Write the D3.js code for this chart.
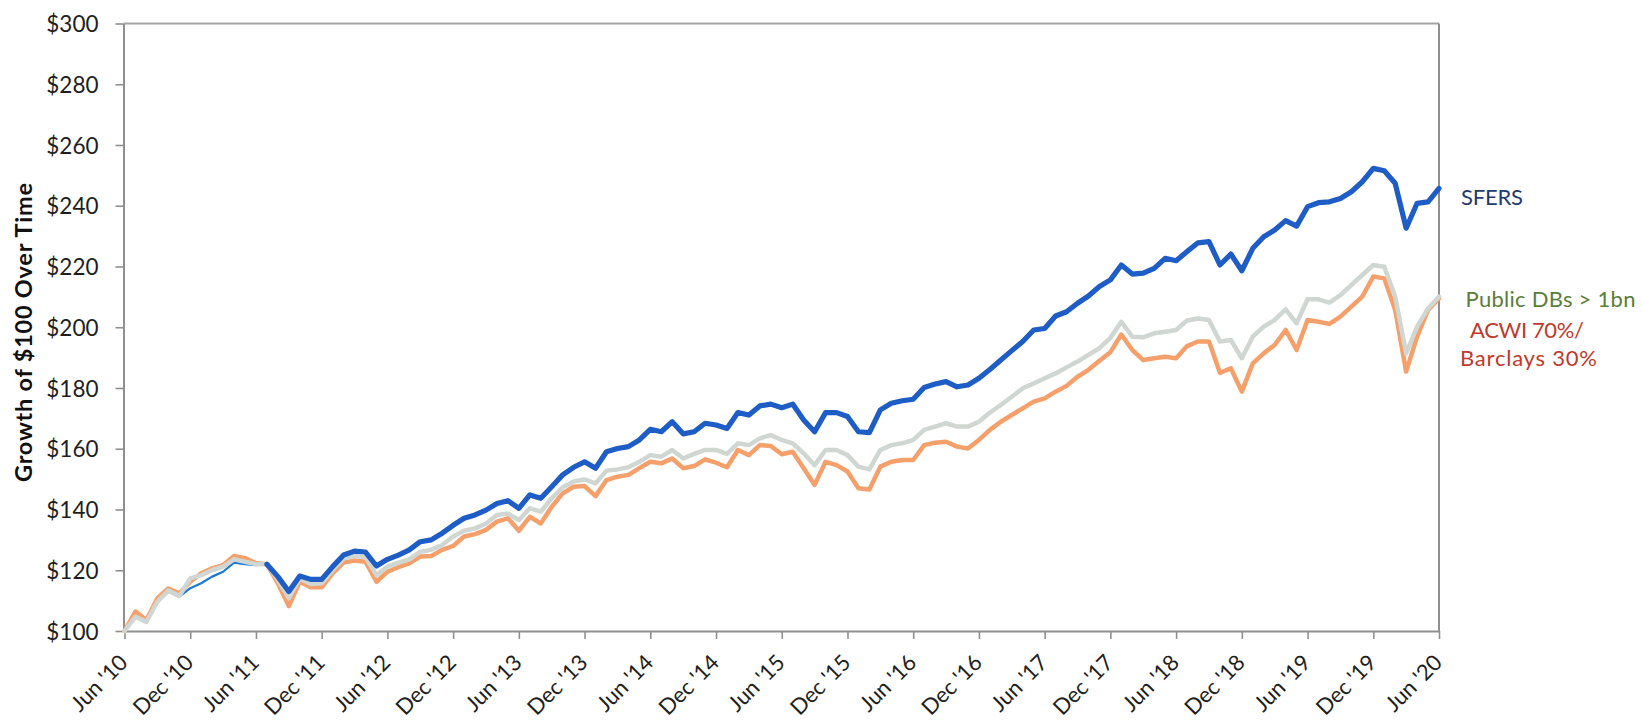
<!DOCTYPE html>
<html>
<head>
<meta charset="utf-8">
<script src="https://cdn.jsdelivr.net/npm/d3@7"></script>
<style>
  html, body { margin: 0; padding: 0; background: #ffffff; }
  svg { display: block; }
  text { font-family: Lato, "Open Sans", sans-serif; }
</style>
</head>
<body>
<svg id="chart" width="1642" height="721"></svg>
<script>
// Monthly growth of $100, Jun 2010 – Jun 2020 (121 month-ends)
const monthFmt = d3.timeFormat("%b '%y");
const categories = d3.timeMonth
  .range(new Date(2010, 5, 1), new Date(2020, 6, 1))
  .map(monthFmt);

const tickLabels = [
  "Jun '10", "Dec '10", "Jun '11", "Dec '11", "Jun '12", "Dec '12", "Jun '13",
  "Dec '13", "Jun '14", "Dec '14", "Jun '15", "Dec '15", "Jun '16", "Dec '16",
  "Jun '17", "Dec '17", "Jun '18", "Dec '18", "Jun '19", "Dec '19", "Jun '20"
];

const yTicks = [100, 120, 140, 160, 180, 200, 220, 240, 260, 280, 300];

const sfers = [
  100, 104.5, 103, 109.5, 113, 111.3, 114.1, 115.7, 117.9, 119.5,
  122.5, 122, 121.7, 122, 117.9, 113, 118.1, 117, 117, 121.2,
  125, 126.3, 126, 121.4, 123.6, 125, 126.7, 129.4, 130, 132.2,
  134.8, 137.1, 138.2, 139.8, 142, 142.9, 140.4, 144.8, 143.7, 147.5,
  151.4, 153.9, 155.7, 153.6, 159, 160.1, 160.7, 162.9, 166.4, 165.6,
  168.9, 164.9, 165.6, 168.4, 167.8, 166.7, 171.9, 171.1, 174.1, 174.7,
  173.5, 174.7, 169.5, 165.6, 171.9, 171.9, 170.6, 165.6, 165.3, 172.8,
  175, 175.8, 176.3, 180.2, 181.3, 182.1, 180.4, 181, 183.2, 186.1,
  189.2, 192.3, 195.3, 199.1, 199.6, 203.7, 205.1, 207.9, 210.3, 213.4,
  215.6, 220.5, 217.5, 217.8, 219.4, 222.7, 221.9, 224.9, 227.8, 228.2,
  220.5, 224.1, 218.6, 226, 229.8, 232, 235.1, 233.3, 239.7, 241,
  241.3, 242.4, 244.6, 247.9, 252.3, 251.5, 247.4, 232.6, 240.8, 241.3,
  245.7
];

const publicDBs = [
  100, 104.7, 103, 109.7, 113.3, 111.5, 117.3, 118.4, 120, 121.2,
  123.6, 122.8, 122, 122, 116.8, 110.8, 117.3, 115.5, 115.7, 120,
  123.9, 124.7, 124.3, 118.4, 121.2, 122.5, 123.6, 126.1, 126.7, 128.3,
  131.1, 133, 133.8, 135.4, 138.2, 138.7, 136.5, 140.4, 139.3, 143.7,
  147.3, 149.2, 149.9, 148.6, 152.8, 153.2, 153.9, 155.7, 157.9, 157.4,
  159.6, 156.8, 158.3, 159.6, 159.6, 158.3, 161.8, 161.2, 163.4, 164.5,
  162.9, 161.8, 158.5, 154.6, 159.6, 159.6, 157.9, 154.1, 153.2, 159.6,
  161.2, 161.8, 162.9, 166.2, 167.3, 168.4, 167.3, 167.3, 168.9, 171.9,
  174.4, 177.1, 179.9, 181.5, 183.2, 184.8, 186.8, 188.7, 190.9, 193.1,
  196.5, 201.8, 196.9, 196.7, 198, 198.5, 199.1, 202.2, 202.9, 202.4,
  195.3, 195.8, 189.8, 196.9, 200.2, 202.4, 205.9, 201.3, 209.2, 209.2,
  208.1, 210.6, 213.9, 217.2, 220.5, 219.9, 210.1, 191.4, 200.2, 206.2,
  210.1
];

const acwiBarclays = [
  100, 106.4, 103.6, 110.8, 114, 112.4, 116.2, 119, 120.6, 121.7,
  124.7, 124, 122.3, 122, 115.7, 108.2, 116.2, 114.4, 114.4, 119,
  122.5, 123.2, 122.8, 116.2, 119.5, 121, 122.3, 124.5, 124.7, 126.7,
  128, 131.1, 131.9, 133.3, 136, 137.1, 133, 137.6, 135.4, 140.9,
  145.3, 147.5, 147.7, 144.4, 149.7, 150.8, 151.4, 153.6, 155.7, 155.2,
  156.8, 153.6, 154.3, 156.5, 155.4, 153.9, 159.6, 157.9, 161.2, 160.9,
  158.2, 159, 153.6, 148.1, 155.7, 154.6, 152.5, 147, 146.6, 154.1,
  155.7, 156.3, 156.3, 161.2, 162, 162.3, 160.7, 160.1, 162.9, 166.2,
  168.9, 171.1, 173.3, 175.5, 176.6, 178.8, 180.7, 183.7, 186, 189,
  191.8, 197.6, 192.5, 189.2, 189.8, 190.3, 189.8, 193.8, 195.3, 195.3,
  185, 186.5, 178.8, 188.1, 191.4, 194.2, 199.1, 192.5, 202.4, 201.8,
  201.1, 203.5, 206.8, 210.1, 216.7, 216.1, 205.7, 185.4, 196.9, 205.7,
  209.5
];

const svg = d3.select("#chart");
svg.append("rect").attr("width", 1642).attr("height", 721).attr("fill", "#ffffff");

const plot = { left: 123.5, right: 1439, top: 23.5, bottom: 631 };

const x = d3.scalePoint()
  .domain(categories)
  .range([124.5, plot.right]);

const y = d3.scaleLinear()
  .domain([100, 300])
  .range([plot.bottom, plot.top]);

const axisColor = "#8f8f8f";
const labelColor = "#1e1e1e";

// Frame: top and right edges
svg.append("line")
  .attr("x1", plot.left).attr("x2", plot.right)
  .attr("y1", plot.top).attr("y2", plot.top)
  .attr("stroke", "#a3a3a3").attr("stroke-width", 2);
svg.append("line")
  .attr("x1", plot.right).attr("x2", plot.right)
  .attr("y1", plot.top).attr("y2", plot.bottom)
  .attr("stroke", axisColor).attr("stroke-width", 2);

// Y axis
const yAxis = svg.append("g")
  .attr("transform", `translate(${plot.left},0)`)
  .call(d3.axisLeft(y).tickValues(yTicks).tickFormat(d => "$" + d).tickSize(8).tickSizeOuter(0));
yAxis.select(".domain").attr("stroke", axisColor).attr("stroke-width", 2);
yAxis.selectAll(".tick line").attr("stroke", axisColor).attr("stroke-width", 1.6);
yAxis.selectAll(".tick text")
  .attr("x", -25)
  .attr("dy", "0.36em")
  .attr("fill", labelColor)
  .style("font-size", "22.5px");

// X axis, labels every six months
const tickCats = categories.filter(c => tickLabels.includes(c));
const xAxis = svg.append("g")
  .attr("transform", `translate(0,${plot.bottom})`)
  .call(d3.axisBottom(x).tickValues(tickCats).tickSize(8).tickSizeOuter(0));
xAxis.select(".domain").attr("stroke", axisColor).attr("stroke-width", 2);
xAxis.selectAll(".tick line").attr("stroke", axisColor).attr("stroke-width", 1.6);
xAxis.selectAll(".tick text")
  .attr("x", 0).attr("y", 0).attr("dy", 0)
  .attr("text-anchor", "end")
  .attr("transform", "translate(4,33) rotate(-45)")
  .attr("fill", labelColor)
  .style("font-size", "22px");

// Y axis title
svg.append("text")
  .attr("transform", `translate(32,332.5) rotate(-90)`)
  .attr("text-anchor", "middle")
  .attr("fill", "#111111")
  .attr("textLength", 299)
  .attr("lengthAdjust", "spacing")
  .style("font-size", "23.5px")
  .style("font-weight", "bold")
  .text("Growth of $100 Over Time");

// Series lines
const line = d3.line()
  .x(d => x(categories[d.i]))
  .y(d => y(d.v))
  .curve(d3.curveLinear);

const pts = arr => arr.map((v, i) => ({ i, v }));

const lines = svg.append("g").attr("fill", "none")
  .attr("stroke-linejoin", "round").attr("stroke-linecap", "round");

// SFERS early months: thin stroke
lines.append("path")
  .attr("d", line(pts(sfers).slice(0, 14)))
  .attr("stroke", "#1b78d3").attr("stroke-width", 2.2);

lines.append("path")
  .attr("d", line(pts(acwiBarclays)))
  .attr("stroke", "#f5a06b").attr("stroke-width", 4.5);

lines.append("path")
  .attr("d", line(pts(publicDBs)))
  .attr("stroke", "#d0d6d2").attr("stroke-width", 4.5);

// SFERS from Jul '11 on: heavy stroke
lines.append("path")
  .attr("d", line(pts(sfers).slice(13)))
  .attr("stroke", "#1e5cc6").attr("stroke-width", 5.2);

// Series labels at the right edge
const labels = [
  { text: "SFERS", x: 1461, y: 205, w: 62, color: "#1f3b70" },
  { text: "Public DBs > 1bn", x: 1465.5, y: 307, w: 170, color: "#5a7e38" },
  { text: "ACWI 70%/", x: 1470, y: 338, w: 114, color: "#c0392b" },
  { text: "Barclays 30%", x: 1460, y: 366, w: 137, color: "#c0392b" }
];
svg.append("g").selectAll("text").data(labels).join("text")
  .attr("x", d => d.x).attr("y", d => d.y)
  .attr("textLength", d => d.w)
  .attr("lengthAdjust", "spacing")
  .attr("fill", d => d.color)
  .style("font-size", "22px")
  .text(d => d.text);
</script>
</body>
</html>
